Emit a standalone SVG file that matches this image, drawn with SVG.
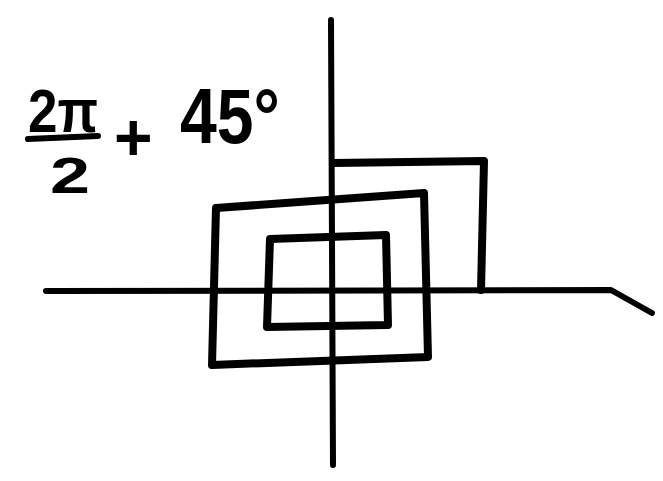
<svg xmlns="http://www.w3.org/2000/svg" width="663" height="481" viewBox="0 0 663 481">
<style>
.ink{fill:none;stroke:#000;stroke-linecap:round;stroke-linejoin:round}
.ax{stroke-width:6}
.sp{stroke-width:8}
.t{font-family:"Liberation Sans",Arial,sans-serif;font-weight:bold;fill:#000}
</style>
<rect width="663" height="481" fill="#fff"/>
<g id="axes">
<path class="ink ax" d="M331 20 L333 465"/>
<path class="ink ax" d="M46 291 L611 290 L652 313"/>
</g>
<g id="spiral">
<path class="ink sp" d="M270 239 L386 235 L388 325 L267 327 Z"/>
<path class="ink sp" d="M216 208 L424 193 L428 357 L212 365 Z"/>
<path class="ink sp" d="M333 163 L484 161 L481 290"/>
</g>
<g id="label">
<text class="t" x="28" y="132" font-size="62" textLength="70" lengthAdjust="spacingAndGlyphs">2π</text>
<path class="ink" stroke-width="6" d="M28 139 L98 136"/>
<text class="t" x="50" y="193" font-size="50" textLength="40" lengthAdjust="spacingAndGlyphs">2</text>
<text class="t" x="114" y="160" font-size="66">+</text>
<text class="t" x="180" y="143" font-size="78" textLength="100" lengthAdjust="spacingAndGlyphs">45°</text>
</g>
</svg>
